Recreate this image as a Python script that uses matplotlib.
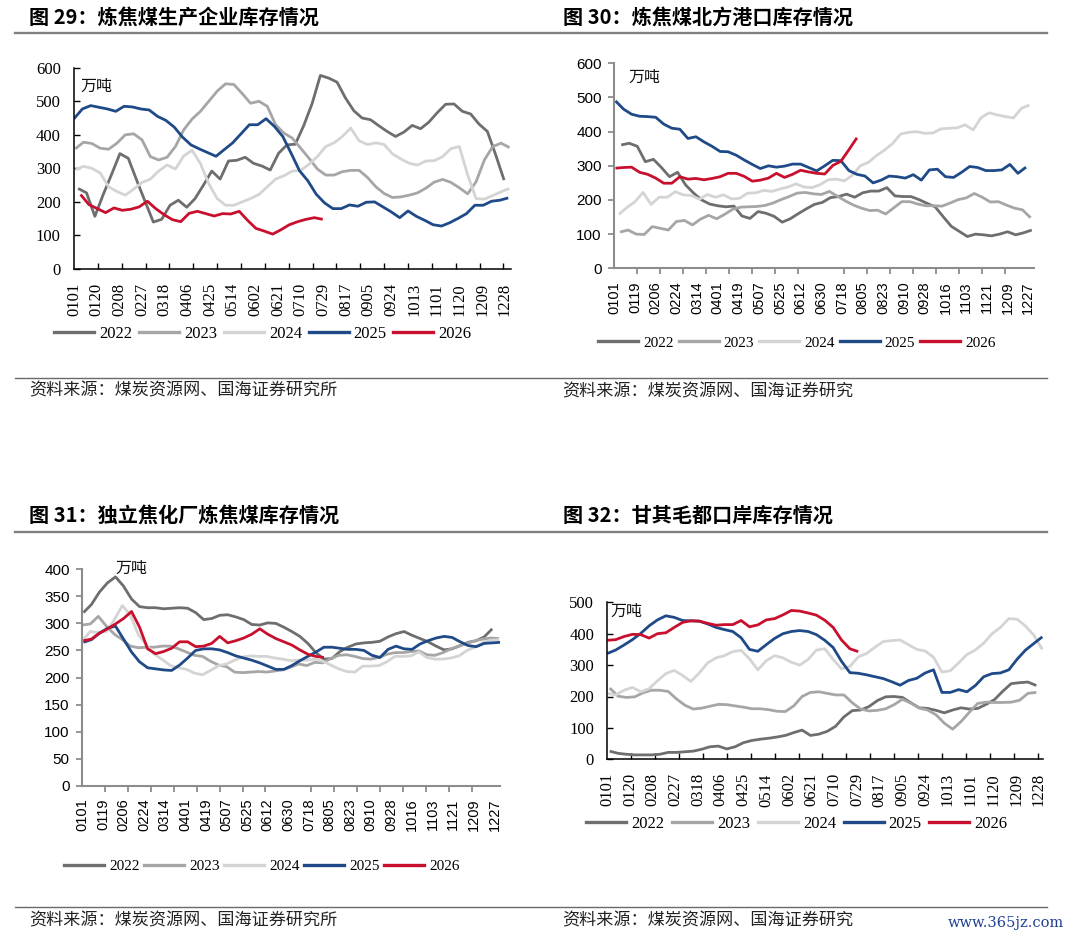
import numpy as np
import matplotlib
matplotlib.use("Agg")
import matplotlib.pyplot as plt
from matplotlib.lines import Line2D
from datetime import date

plt.rcParams['font.family'] = ['Liberation Serif', 'Noto Sans CJK SC', 'DejaVu Sans']

W, H = 1074, 939
CJK = ['Noto Sans CJK SC', 'DejaVu Sans']
SERIF = ['Liberation Serif', 'DejaVu Serif']
SANS = ['Liberation Sans', 'DejaVu Sans']

# ---------------- data ----------------
years = ['2022', '2023', '2024', '2025', '2026']
year_colors = ['#6E6E6E', '#A6A6A6', '#D4D4D4', '#1F4A87', '#C8102E']

labels_19 = ['0101', '0120', '0208', '0227', '0318', '0406', '0425', '0514', '0602', '0621',
             '0710', '0729', '0817', '0905', '0924', '1013', '1101', '1120', '1209', '1228']
labels_18 = ['0101', '0119', '0206', '0224', '0314', '0401', '0419', '0507', '0525', '0612',
             '0630', '0718', '0805', '0823', '0910', '0928', '1016', '1103', '1121', '1209', '1227']

# weekly observations: first observation day-of-year, then weekly values (万吨)
# 图29 炼焦煤生产企业库存
p1_starts = [3.5, 1, 1, 0, 5.5]
p1_2022 = [240, 227, 157, 222, 282, 344, 330, 265, 202, 140, 148, 190, 205, 184, 210, 250, 292, 268,
           322, 324, 333, 315, 307, 295, 345, 370, 372, 427, 492, 577, 569, 557, 510, 472, 450, 445,
           427, 410, 395, 408, 428, 418, 438, 466, 491, 492, 470, 462, 432, 410, 340, 265]
p1_2023 = [358, 378, 374, 360, 357, 375, 400, 403, 385, 335, 325, 333, 365, 415, 447, 470, 500, 530,
           552, 550, 523, 494, 500, 485, 430, 405, 390, 360, 330, 298, 280, 280, 290, 294, 294, 273,
           245, 225, 213, 215, 220, 227, 241, 259, 267, 258, 242, 224, 260, 325, 365, 375, 362]
p1_2024 = [295, 306, 300, 286, 245, 231, 220, 238, 258, 268, 292, 310, 298, 337, 354, 314, 254, 210,
           190, 190, 200, 210, 222, 245, 268, 278, 292, 294, 312, 335, 365, 376, 395, 420, 382, 371,
           376, 371, 343, 328, 315, 310, 322, 323, 335, 359, 365, 280, 210, 208, 219, 230, 240]
p1_2025 = [448, 477, 487, 482, 477, 470, 485, 483, 477, 474, 455, 443, 423, 393, 370, 358, 347, 336,
           356, 376, 403, 430, 430, 448, 425, 395, 345, 293, 263, 223, 197, 180, 180, 191, 187, 199,
           200, 185, 170, 153, 173, 157, 145, 132, 128, 138, 151, 165, 190, 190, 202, 205, 212]
p1_2026 = [222, 192, 180, 168, 182, 175, 178, 185, 202, 180, 162, 147, 141, 166, 172, 165, 158, 165,
           164, 172, 145, 121, 113, 104, 117, 132, 141, 148, 153, 148]

# 图30 炼焦煤北方港口库存
p2_starts = [6, 5, 4, 1, 1]
p2_2022 = [361, 366, 357, 312, 319, 295, 268, 281, 244, 220, 200, 188, 183, 180, 182, 153, 146, 166,
           161, 152, 135, 145, 160, 174, 187, 193, 207, 210, 217, 208, 221, 226, 226, 236, 212, 210,
           210, 201, 190, 180, 151, 123, 108, 93, 100, 98, 95, 100, 107, 98, 104, 112]
p2_2023 = [106, 112, 100, 99, 122, 117, 112, 137, 140, 127, 144, 155, 145, 158, 173, 179, 180, 181,
           184, 191, 201, 210, 220, 222, 218, 216, 225, 211, 197, 185, 176, 169, 170, 159, 177, 195,
           195, 188, 183, 183, 182, 191, 201, 206, 219, 208, 194, 195, 185, 176, 171, 148]
p2_2024 = [158, 178, 195, 222, 187, 208, 208, 224, 215, 213, 202, 216, 208, 215, 203, 205, 220, 221,
           228, 225, 232, 238, 247, 238, 236, 245, 259, 261, 256, 272, 300, 310, 330, 346, 365, 393,
           398, 400, 395, 396, 408, 410, 411, 420, 405, 441, 455, 449, 444, 440, 468, 478]
p2_2025 = [490, 466, 451, 445, 444, 442, 422, 410, 407, 380, 385, 370, 357, 342, 341, 331, 317, 304,
           292, 300, 296, 299, 305, 305, 295, 285, 300, 316, 315, 286, 275, 270, 250, 258, 270, 268,
           264, 274, 258, 288, 290, 268, 266, 281, 298, 295, 286, 286, 288, 304, 278, 296]
p2_2026 = [293, 295, 296, 281, 275, 264, 249, 249, 268, 261, 263, 259, 263, 268, 278, 278, 269, 255,
           258, 264, 278, 266, 275, 287, 282, 278, 276, 301, 313, 347, 382]

# 图31 独立焦化厂炼焦煤库存
p3_starts = [1, 0, 0, 1, 1]
p3_2022 = [320, 335, 358, 375, 386, 369, 345, 331, 329, 329, 327, 328, 329, 328, 320, 307, 309, 315,
           316, 312, 307, 298, 297, 301, 300, 293, 285, 276, 263, 246, 234, 235, 248, 256, 262, 264,
           265, 267, 275, 281, 285, 278, 272, 266, 258, 251, 253, 259, 265, 268, 275, 290]
p3_2023 = [297, 299, 313, 295, 280, 270, 258, 255, 256, 256, 258, 258, 253, 247, 241, 239, 230, 223,
           220, 210, 209, 210, 211, 210, 212, 214, 219, 225, 222, 228, 227, 235, 241, 242, 239, 235,
           234, 237, 243, 246, 246, 248, 249, 242, 241, 246, 253, 258, 263, 268, 271, 273, 272]
p3_2024 = [268, 285, 283, 285, 307, 333, 315, 279, 260, 243, 233, 222, 218, 215, 208, 205, 213, 222,
           225, 232, 238, 240, 239, 239, 236, 234, 231, 232, 232, 234, 230, 223, 216, 211, 210, 221,
           221, 222, 229, 239, 239, 240, 247, 237, 234, 234, 236, 240, 250, 256, 265, 269, 270]
p3_2025 = [265, 270, 282, 291, 295, 271, 247, 229, 218, 216, 214, 213, 223, 236, 250, 253, 253, 251,
           246, 240, 236, 232, 227, 221, 215, 215, 222, 231, 239, 247, 256, 256, 254, 252, 252, 250,
           241, 237, 252, 258, 253, 252, 262, 268, 273, 276, 274, 266, 259, 257, 263, 264, 265]
p3_2026 = [268, 271, 282, 290, 299, 309, 322, 293, 253, 244, 248, 254, 266, 266, 257, 258, 263, 276,
           264, 268, 273, 280, 290, 280, 272, 266, 260, 251, 243, 239, 237]

# 图32 甘其毛都口岸库存
p4_starts = [2, 2, 0, 0, 0]
p4_2022 = [26, 19, 16, 14, 14, 14, 16, 22, 22, 24, 26, 32, 40, 42, 33, 40, 53, 60, 64, 67, 71, 76,
           85, 93, 76, 80, 89, 105, 135, 155, 157, 168, 187, 199, 200, 197, 180, 164, 162, 156, 148,
           157, 164, 160, 162, 175, 190, 217, 241, 244, 246, 235]
p4_2023 = [227, 201, 197, 199, 212, 220, 220, 216, 192, 172, 160, 163, 169, 175, 174, 170, 166, 161,
           161, 158, 153, 152, 170, 200, 213, 215, 210, 205, 205, 180, 160, 154, 156, 161, 174, 191,
           179, 163, 157, 142, 115, 96, 120, 150, 178, 182, 181, 181, 182, 188, 210, 213]
p4_2024 = [210, 205, 220, 229, 215, 225, 250, 273, 283, 267, 248, 275, 307, 323, 330, 343, 347, 320,
           285, 314, 330, 323, 309, 300, 318, 348, 352, 318, 288, 296, 326, 337, 357, 375, 378, 380,
           365, 350, 345, 325, 278, 282, 307, 334, 348, 370, 400, 420, 448, 446, 424, 395, 350]
p4_2025 = [337, 348, 364, 381, 401, 425, 444, 457, 452, 442, 441, 440, 431, 420, 413, 407, 387, 350,
           344, 365, 385, 400, 407, 410, 407, 397, 379, 356, 312, 276, 274, 269, 263, 257, 247, 236,
           251, 258, 275, 285, 213, 213, 222, 215, 235, 263, 273, 275, 285, 319, 348, 369, 390]
p4_2026 = [379, 381, 391, 398, 397, 386, 400, 403, 420, 436, 441, 440, 433, 427, 429, 429, 442, 422,
           428, 444, 448, 460, 474, 472, 466, 459, 443, 420, 380, 352, 343]

source_a = '资料来源：煤炭资源网、国海证券研究所'
source_b = '资料来源：煤炭资源网、国海证券研究'


def day_of_year(mmdd):
    return (date(2023, int(mmdd[:2]), int(mmdd[2:])) - date(2023, 1, 1)).days


panels = [
    dict(title='图 29：炼焦煤生产企业库存情况', title_xy=(29, 17), x0=74, ytop=67.7, ybot=269,
         ppd=1.193, xmax=366, ymax=600, ystep=100, labels=labels_19, serif=True,
         starts=p1_starts, series=[p1_2022, p1_2023, p1_2024, p1_2025, p1_2026],
         unit_xy=(80, 86.7), leg=(263, 334), leg_fs=12, colsp=0.4,
         source=source_a, source_xy=(29, 390)),
    dict(title='图 30：炼焦煤北方港口库存情况', title_xy=(563, 17), x0=614.3, ytop=63.3, ybot=268.3,
         ppd=1.15, xmax=365, ymax=600, ystep=100, labels=labels_18, serif=False,
         starts=p2_starts, series=[p2_2022, p2_2023, p2_2024, p2_2025, p2_2026],
         unit_xy=(628, 77.3), leg=(797, 342.7), leg_fs=11, colsp=0.33,
         source=source_b, source_xy=(562, 391)),
    dict(title='图 31：独立焦化厂炼焦煤库存情况', title_xy=(29, 515), x0=82.3, ytop=569.3, ybot=785.7,
         ppd=1.145, xmax=365, ymax=400, ystep=50, labels=labels_18, serif=False,
         starts=p3_starts, series=[p3_2022, p3_2023, p3_2024, p3_2025, p3_2026],
         unit_xy=(115, 568.3), leg=(262, 866), leg_fs=11, colsp=0.3,
         source=source_a, source_xy=(29, 920)),
    dict(title='图 32：甘其毛都口岸库存情况', title_xy=(563, 515), x0=607.3, ytop=602.3, ybot=759.3,
         ppd=1.195, xmax=365, ymax=500, ystep=100, labels=labels_19, serif=True,
         starts=p4_starts, series=[p4_2022, p4_2023, p4_2024, p4_2025, p4_2026],
         unit_xy=(610, 611.7), leg=(797, 824), leg_fs=12, colsp=0.46,
         source=source_b, source_xy=(562, 920)),
]

fig = plt.figure(figsize=(W / 100, H / 100), dpi=100)


def fx(x):
    return x / W


def fy(y):
    return 1 - y / H


for p in panels:
    width = p['ppd'] * p['xmax']
    ax = fig.add_axes([fx(p['x0']), fy(p['ybot']), width / W, (p['ybot'] - p['ytop']) / H])
    for name, col, st, vals in zip(years, year_colors, p['starts'], p['series']):
        xs = st + 7 * np.arange(len(vals))
        ax.plot(xs, vals, color=col, lw=2.0, solid_joinstyle='round', solid_capstyle='butt',
                label=name, clip_on=True)
    ax.set_xlim(0, p['xmax'])
    ax.set_ylim(0, p['ymax'])
    for s in ['top', 'right']:
        ax.spines[s].set_visible(False)

    if p['serif']:
        fam, xfs, yfs = SERIF, 12, 12
        spine_col = '#000000'
        spine_lw = 1.1
    else:
        fam, xfs, yfs = SANS, 10.5, 11
        spine_col = '#8C8C8C'
        spine_lw = 1.5

    label_pos = [day_of_year(s) for s in p['labels']]
    yvals = np.arange(0, p['ymax'] + 1, p['ystep'])
    ax.set_xticks(label_pos, labels=p['labels'], fontfamily=fam, fontsize=xfs, rotation=90)
    ax.set_xticks(np.arange(0, 361, 20), minor=True)
    ax.set_yticks(yvals, labels=[str(v) for v in yvals], fontfamily=fam, fontsize=yfs)

    if p['serif']:
        ax.tick_params(axis='x', which='major', length=0, pad=10)
        ax.tick_params(axis='x', which='minor', direction='in', length=4.2, width=1.0,
                       color=spine_col)
        ax.tick_params(axis='y', direction='in', length=4.2, width=1.0, pad=9.5,
                       color=spine_col)
    else:
        ax.tick_params(axis='x', which='major', length=0, pad=9.3)
        ax.tick_params(axis='x', which='minor', direction='out', length=4.3, width=1.3,
                       color=spine_col)
        ax.tick_params(axis='y', direction='out', length=4.3, width=1.3, pad=4.8,
                       color=spine_col)
    ax.tick_params(labelcolor='black')
    for s in ['left', 'bottom']:
        ax.spines[s].set_color(spine_col)
        ax.spines[s].set_linewidth(spine_lw)

    # unit label
    fig.text(fx(p['unit_xy'][0]), fy(p['unit_xy'][1]), '万吨', family=CJK, fontsize=11.5,
             ha='left', va='center', color='#111111')

    # legend
    fs_px = p['leg_fs'] * 100 / 72
    handles = [Line2D([], [], color=c, lw=2.4) for c in year_colors]
    fig.legend(handles, years, loc='center', ncol=5, frameon=False,
               bbox_to_anchor=(fx(p['leg'][0]), fy(p['leg'][1])),
               bbox_transform=fig.transFigure,
               prop={'family': SERIF, 'size': p['leg_fs']},
               handlelength=40 / fs_px, handletextpad=5 / fs_px,
               columnspacing=p['colsp'], borderpad=0, borderaxespad=0)

    # title and source
    fig.text(fx(p['title_xy'][0]), fy(p['title_xy'][1]), p['title'], family=CJK,
             fontsize=14.5, fontweight='bold', ha='left', va='center', color='black')
    fig.text(fx(p['source_xy'][0]), fy(p['source_xy'][1]), p['source'], family=CJK,
             fontsize=12.3, ha='left', va='center', color='#222222')

# separator lines
for y in [33.3, 531.7]:
    fig.add_artist(Line2D([fx(15), fx(1047)], [fy(y), fy(y)], color='#808080', lw=1.7,
                          transform=fig.transFigure))
for y in [378, 906.7]:
    fig.add_artist(Line2D([fx(15), fx(1047)], [fy(y), fy(y)], color='#6A6A6A', lw=1.0,
                          transform=fig.transFigure))

fig.text(fx(1064), fy(923), 'www.365jz.com', family=['DejaVu Serif'], fontsize=10.5,
         ha='right', va='center', color='#1F3F8F')

fig.savefig('out.png', dpi=100)
